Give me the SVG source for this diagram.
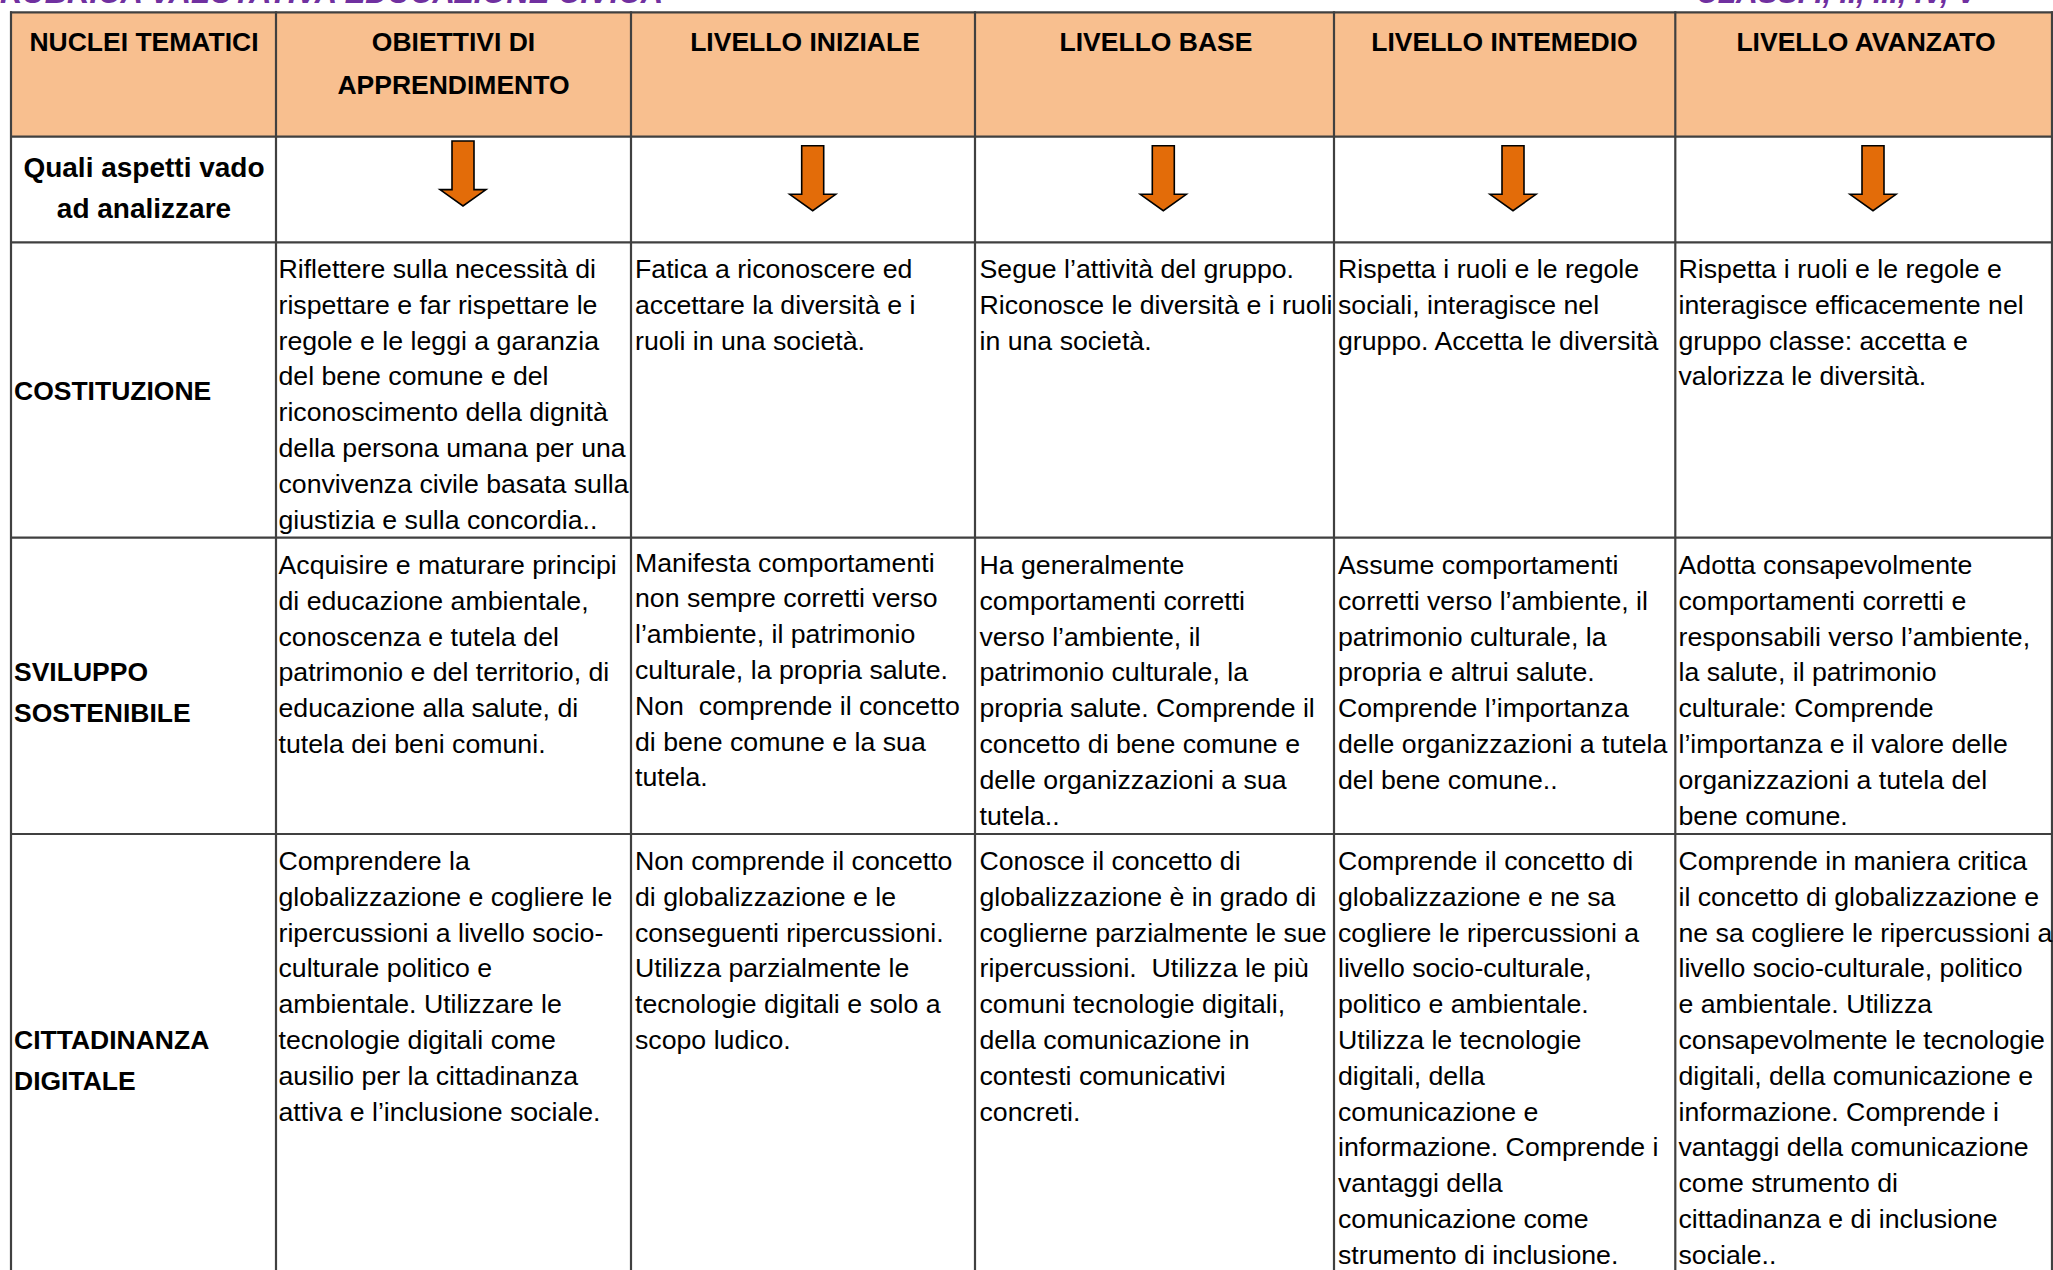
<svg xmlns="http://www.w3.org/2000/svg" width="2053" height="1270" viewBox="0 0 2053 1270">
<style>
.t{font-family:"Liberation Sans",Arial,sans-serif;font-size:26.7px;fill:#000;white-space:pre}
.b{font-family:"Liberation Sans",Arial,sans-serif;font-size:26.5px;font-weight:bold;fill:#000}
.q{font-size:28px}
.c{text-anchor:middle}
.ttl{font-family:"Liberation Sans",Arial,sans-serif;font-size:30.5px;font-weight:bold;font-style:italic;fill:#7030A0}
.grid line{stroke:#404040;stroke-width:2.2}
.arr{fill:#E36C09;stroke:#000;stroke-width:1.6;stroke-linejoin:miter}
</style>
<defs>
<path id="arrow" d="M-11,0 H11 V48.6 H23 L0,65 L-23,48.6 H-11 Z"/>
</defs>
<rect width="2053" height="1270" fill="#fff"/>
<g id="title">
<text class="ttl" x="0" y="2.5" textLength="663" lengthAdjust="spacingAndGlyphs">RUBRICA VALUTATIVA EDUCAZIONE CIVICA</text>
<text class="ttl" x="1696" y="2.5" textLength="281" lengthAdjust="spacingAndGlyphs">CLASSI I, II, III, IV, V</text>
</g>
<rect id="header-bg" x="11" y="12.3" width="2041" height="124.4" fill="#F8BF8F"/>
<g id="grid" class="grid">
<line x1="10" y1="12.3" x2="2053" y2="12.3"/>
<line x1="10" y1="136.7" x2="2053" y2="136.7"/>
<line x1="10" y1="242.3" x2="2053" y2="242.3"/>
<line x1="10" y1="537.7" x2="2053" y2="537.7"/>
<line x1="10" y1="834" x2="2053" y2="834"/>
<line x1="11" y1="11.2" x2="11" y2="1270"/>
<line x1="276" y1="11.2" x2="276" y2="1270"/>
<line x1="631" y1="11.2" x2="631" y2="1270"/>
<line x1="975" y1="11.2" x2="975" y2="1270"/>
<line x1="1334" y1="11.2" x2="1334" y2="1270"/>
<line x1="1675.3" y1="11.2" x2="1675.3" y2="1270"/>
<line x1="2052" y1="11.2" x2="2052" y2="1270"/>
</g>
<g id="header">
<g id="h-nuclei"><text class="b c" x="144" y="50.5">NUCLEI TEMATICI</text></g>
<g id="h-obiettivi"><text class="b c" x="453.5" y="50.5">OBIETTIVI DI</text><text class="b c" x="453.5" y="94">APPRENDIMENTO</text></g>
<g id="h-iniziale"><text class="b c" x="805" y="50.5">LIVELLO INIZIALE</text></g>
<g id="h-base"><text class="b c" x="1156" y="50.5">LIVELLO BASE</text></g>
<g id="h-intermedio"><text class="b c" x="1504.5" y="50.5">LIVELLO INTEMEDIO</text></g>
<g id="h-avanzato"><text class="b c" x="1866" y="50.5">LIVELLO AVANZATO</text></g>
</g>
<g id="row-aspetti">
<g id="aspetti"><text class="b q c" x="144" y="176.7">Quali aspetti vado</text><text class="b q c" x="144" y="218.3">ad analizzare</text></g>
</g>
<g id="arrows">
<use href="#arrow" class="arr" x="463" y="141"/>
<use href="#arrow" class="arr" x="812.7" y="145.7"/>
<use href="#arrow" class="arr" x="1163.3" y="145.7"/>
<use href="#arrow" class="arr" x="1513" y="145.7"/>
<use href="#arrow" class="arr" x="1873" y="145.7"/>
</g>
<g id="row-costituzione">
<g id="costituzione"><text class="b" x="14" y="399.5">COSTITUZIONE</text></g>
<g id="cost-obiettivi"><text class="t" y="278"><tspan x="278.5">Riflettere sulla necessità di</tspan><tspan x="278.5" dy="35.8">rispettare e far rispettare le</tspan><tspan x="278.5" dy="35.8">regole e le leggi a garanzia</tspan><tspan x="278.5" dy="35.8">del bene comune e del</tspan><tspan x="278.5" dy="35.8">riconoscimento della dignità</tspan><tspan x="278.5" dy="35.8">della persona umana per una</tspan><tspan x="278.5" dy="35.8">convivenza civile basata sulla</tspan><tspan x="278.5" dy="35.8">giustizia e sulla concordia..</tspan></text></g>
<g id="cost-iniziale"><text class="t" y="278"><tspan x="635">Fatica a riconoscere ed</tspan><tspan x="635" dy="35.8">accettare la diversità e i</tspan><tspan x="635" dy="35.8">ruoli in una società.</tspan></text></g>
<g id="cost-base"><text class="t" y="278"><tspan x="979.5">Segue l’attività del gruppo.</tspan><tspan x="979.5" dy="35.8">Riconosce le diversità e i ruoli</tspan><tspan x="979.5" dy="35.8">in una società.</tspan></text></g>
<g id="cost-intermedio"><text class="t" y="278"><tspan x="1338">Rispetta i ruoli e le regole</tspan><tspan x="1338" dy="35.8">sociali, interagisce nel</tspan><tspan x="1338" dy="35.8">gruppo. Accetta le diversità</tspan></text></g>
<g id="cost-avanzato"><text class="t" y="278"><tspan x="1678.5">Rispetta i ruoli e le regole e</tspan><tspan x="1678.5" dy="35.8">interagisce efficacemente nel</tspan><tspan x="1678.5" dy="35.8">gruppo classe: accetta e</tspan><tspan x="1678.5" dy="35.8">valorizza le diversità.</tspan></text></g>
</g>
<g id="row-sviluppo">
<g id="sviluppo"><text class="b" x="14" y="681">SVILUPPO</text><text class="b" x="14" y="721.6">SOSTENIBILE</text></g>
<g id="svil-obiettivi"><text class="t" y="574"><tspan x="278.5">Acquisire e maturare principi</tspan><tspan x="278.5" dy="35.8">di educazione ambientale,</tspan><tspan x="278.5" dy="35.8">conoscenza e tutela del</tspan><tspan x="278.5" dy="35.8">patrimonio e del territorio, di</tspan><tspan x="278.5" dy="35.8">educazione alla salute, di</tspan><tspan x="278.5" dy="35.8">tutela dei beni comuni.</tspan></text></g>
<g id="svil-iniziale"><text class="t" y="571.5"><tspan x="635">Manifesta comportamenti</tspan><tspan x="635" dy="35.8">non sempre corretti verso</tspan><tspan x="635" dy="35.8">l’ambiente, il patrimonio</tspan><tspan x="635" dy="35.8">culturale, la propria salute.</tspan><tspan x="635" dy="35.8">Non  comprende il concetto</tspan><tspan x="635" dy="35.8">di bene comune e la sua</tspan><tspan x="635" dy="35.8">tutela.</tspan></text></g>
<g id="svil-base"><text class="t" y="574"><tspan x="979.5">Ha generalmente</tspan><tspan x="979.5" dy="35.8">comportamenti corretti</tspan><tspan x="979.5" dy="35.8">verso l’ambiente, il</tspan><tspan x="979.5" dy="35.8">patrimonio culturale, la</tspan><tspan x="979.5" dy="35.8">propria salute. Comprende il</tspan><tspan x="979.5" dy="35.8">concetto di bene comune e</tspan><tspan x="979.5" dy="35.8">delle organizzazioni a sua</tspan><tspan x="979.5" dy="35.8">tutela..</tspan></text></g>
<g id="svil-intermedio"><text class="t" y="574"><tspan x="1338">Assume comportamenti</tspan><tspan x="1338" dy="35.8">corretti verso l’ambiente, il</tspan><tspan x="1338" dy="35.8">patrimonio culturale, la</tspan><tspan x="1338" dy="35.8">propria e altrui salute.</tspan><tspan x="1338" dy="35.8">Comprende l’importanza</tspan><tspan x="1338" dy="35.8">delle organizzazioni a tutela</tspan><tspan x="1338" dy="35.8">del bene comune..</tspan></text></g>
<g id="svil-avanzato"><text class="t" y="574"><tspan x="1678.5">Adotta consapevolmente</tspan><tspan x="1678.5" dy="35.8">comportamenti corretti e</tspan><tspan x="1678.5" dy="35.8">responsabili verso l’ambiente,</tspan><tspan x="1678.5" dy="35.8">la salute, il patrimonio</tspan><tspan x="1678.5" dy="35.8">culturale: Comprende</tspan><tspan x="1678.5" dy="35.8">l’importanza e il valore delle</tspan><tspan x="1678.5" dy="35.8">organizzazioni a tutela del</tspan><tspan x="1678.5" dy="35.8">bene comune.</tspan></text></g>
</g>
<g id="row-cittadinanza">
<g id="cittadinanza"><text class="b" x="14" y="1049">CITTADINANZA</text><text class="b" x="14" y="1090">DIGITALE</text></g>
<g id="citt-obiettivi"><text class="t" y="870"><tspan x="278.5">Comprendere la</tspan><tspan x="278.5" dy="35.8">globalizzazione e cogliere le</tspan><tspan x="278.5" dy="35.8">ripercussioni a livello socio-</tspan><tspan x="278.5" dy="35.8">culturale politico e</tspan><tspan x="278.5" dy="35.8">ambientale. Utilizzare le</tspan><tspan x="278.5" dy="35.8">tecnologie digitali come</tspan><tspan x="278.5" dy="35.8">ausilio per la cittadinanza</tspan><tspan x="278.5" dy="35.8">attiva e l’inclusione sociale.</tspan></text></g>
<g id="citt-iniziale"><text class="t" y="870"><tspan x="635">Non comprende il concetto</tspan><tspan x="635" dy="35.8">di globalizzazione e le</tspan><tspan x="635" dy="35.8">conseguenti ripercussioni.</tspan><tspan x="635" dy="35.8">Utilizza parzialmente le</tspan><tspan x="635" dy="35.8">tecnologie digitali e solo a</tspan><tspan x="635" dy="35.8">scopo ludico.</tspan></text></g>
<g id="citt-base"><text class="t" y="870"><tspan x="979.5">Conosce il concetto di</tspan><tspan x="979.5" dy="35.8">globalizzazione è in grado di</tspan><tspan x="979.5" dy="35.8">coglierne parzialmente le sue</tspan><tspan x="979.5" dy="35.8">ripercussioni.  Utilizza le più</tspan><tspan x="979.5" dy="35.8">comuni tecnologie digitali,</tspan><tspan x="979.5" dy="35.8">della comunicazione in</tspan><tspan x="979.5" dy="35.8">contesti comunicativi</tspan><tspan x="979.5" dy="35.8">concreti.</tspan></text></g>
<g id="citt-intermedio"><text class="t" y="870"><tspan x="1338">Comprende il concetto di</tspan><tspan x="1338" dy="35.8">globalizzazione e ne sa</tspan><tspan x="1338" dy="35.8">cogliere le ripercussioni a</tspan><tspan x="1338" dy="35.8">livello socio-culturale,</tspan><tspan x="1338" dy="35.8">politico e ambientale.</tspan><tspan x="1338" dy="35.8">Utilizza le tecnologie</tspan><tspan x="1338" dy="35.8">digitali, della</tspan><tspan x="1338" dy="35.8">comunicazione e</tspan><tspan x="1338" dy="35.8">informazione. Comprende i</tspan><tspan x="1338" dy="35.8">vantaggi della</tspan><tspan x="1338" dy="35.8">comunicazione come</tspan><tspan x="1338" dy="35.8">strumento di inclusione.</tspan></text></g>
<g id="citt-avanzato"><text class="t" y="870"><tspan x="1678.5">Comprende in maniera critica</tspan><tspan x="1678.5" dy="35.8">il concetto di globalizzazione e</tspan><tspan x="1678.5" dy="35.8">ne sa cogliere le ripercussioni a</tspan><tspan x="1678.5" dy="35.8">livello socio-culturale, politico</tspan><tspan x="1678.5" dy="35.8">e ambientale. Utilizza</tspan><tspan x="1678.5" dy="35.8">consapevolmente le tecnologie</tspan><tspan x="1678.5" dy="35.8">digitali, della comunicazione e</tspan><tspan x="1678.5" dy="35.8">informazione. Comprende i</tspan><tspan x="1678.5" dy="35.8">vantaggi della comunicazione</tspan><tspan x="1678.5" dy="35.8">come strumento di</tspan><tspan x="1678.5" dy="35.8">cittadinanza e di inclusione</tspan><tspan x="1678.5" dy="35.8">sociale..</tspan></text></g>
</g>
</svg>
